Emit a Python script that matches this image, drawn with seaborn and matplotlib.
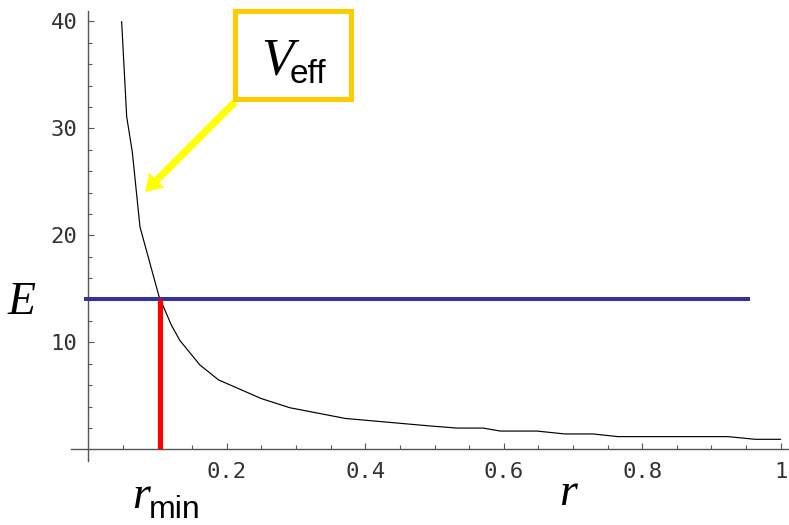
import matplotlib
matplotlib.use("Agg")
import matplotlib.pyplot as plt
import matplotlib.patches as mpatches
import seaborn as sns
import pandas as pd

# effective potential curve
r_vals = [0.048, 0.0553, 0.0634, 0.0745, 0.102, 0.120, 0.132, 0.161, 0.188,
          0.250, 0.291, 0.371, 0.493, 0.532, 0.570, 0.595, 0.648, 0.688,
          0.729, 0.765, 0.924, 0.963, 1.0]
veff_vals = [40.0, 31.1, 27.8, 20.8, 14.3, 11.6, 10.2, 7.9, 6.5,
             4.75, 3.9, 2.9, 2.2, 2.0, 2.0, 1.72, 1.72, 1.45,
             1.45, 1.2, 1.2, 0.95, 0.95]

energy = 14.1
energy_r = [-0.006, 0.955]
r_min = 0.103

x_ticks = [0.2, 0.4, 0.6, 0.8, 1.0]
x_tick_labels = ["0.2", "0.4", "0.6", "0.8", "1"]
y_ticks = [10, 20, 30, 40]
y_tick_labels = ["10", "20", "30", "40"]

W, H = 789, 525


def fx(px):
    return px / W


def fy(py):
    return 1 - py / H


sns.set_style("ticks")
plt.rcParams["font.family"] = ["DejaVu Sans"]
plt.rcParams["text.color"] = "black"

fig = plt.figure(figsize=(W / 100, H / 100), dpi=100)
ax = fig.add_axes([fx(71.1), fy(460.7), fx(789.7) - fx(71.1), fy(10.8) - fy(460.7)])

df = pd.DataFrame({"r": r_vals, "V": veff_vals})
sns.lineplot(data=df, x="r", y="V", sort=False, color="black", linewidth=0.85, ax=ax)

# energy level and turning point
ax.plot(energy_r, [energy, energy], color="#333399", linewidth=2.9, solid_capstyle="butt", zorder=3)
ax.plot([r_min, r_min], [0, energy], color="#ff0000", linewidth=3.7, solid_capstyle="butt", zorder=3)

ax.set_xlim(-0.025, 1.013)
ax.set_ylim(-1.05, 41.0)
ax.set_xlabel("")
ax.set_ylabel("")

for s in ["top", "right"]:
    ax.spines[s].set_visible(False)
ax.spines["left"].set_position(("data", 0))
ax.spines["bottom"].set_position(("data", 0))
for s in ["left", "bottom"]:
    ax.spines[s].set_color("#555555")
    ax.spines[s].set_linewidth(1.0)

ax.set_xticks(x_ticks)
ax.set_xticklabels(x_tick_labels)
ax.set_yticks(y_ticks)
ax.set_yticklabels(y_tick_labels)
ax.set_xticks([0.05, 0.1, 0.15, 0.25, 0.3, 0.35, 0.45, 0.5, 0.55, 0.65, 0.7,
               0.75, 0.85, 0.9, 0.95], minor=True)
ax.set_yticks([2, 4, 6, 8, 12, 14, 16, 18, 22, 24, 26, 28, 32, 34, 36, 38], minor=True)
ax.tick_params(which="major", direction="in", length=4.5, width=0.8, color="#555555",
               labelsize=16, labelcolor="#333333")
ax.tick_params(which="minor", direction="in", length=2.6, width=0.8, color="#555555")
ax.tick_params(axis="x", which="major", pad=9)
ax.tick_params(axis="y", which="major", pad=8)
for lab in ax.get_xticklabels() + ax.get_yticklabels():
    lab.set_family("DejaVu Sans Mono")

serif = "Liberation Serif"
sans = "Liberation Sans"

# axis labels
fig.text(fx(22), fy(314), "E", family=serif, style="italic", fontsize=33,
         ha="center", va="baseline", color="black")
fig.text(fx(568), fy(505), "r", family=serif, style="italic", fontsize=33,
         ha="center", va="baseline", color="black")
fig.text(fx(150), fy(508), "r", family=serif, style="italic", fontsize=33,
         ha="right", va="baseline", color="black")
fig.text(fx(149), fy(518), "min", family=sans, fontsize=23,
         ha="left", va="baseline", color="black")

# V_eff box and arrow
box = mpatches.Rectangle((fx(235), fy(99)), fx(351) - fx(235), fy(10.8) - fy(99),
                         transform=fig.transFigure, fill=True, facecolor="white",
                         edgecolor="#ffcc00", linewidth=3.6, zorder=5)
fig.patches.append(box)
fig.text(fx(277), fy(75), "V", family=serif, style="italic", fontsize=38,
         ha="center", va="baseline", zorder=6, color="black")
fig.text(fx(290), fy(83), "eff", family=sans, fontsize=24,
         ha="left", va="baseline", zorder=6, color="black")

ax.annotate("", xy=(fx(145), fy(192)), xycoords="figure fraction",
            xytext=(fx(235), fy(102)), textcoords="figure fraction",
            arrowprops=dict(arrowstyle="simple,head_length=0.6,head_width=0.75,tail_width=0.26",
                            mutation_scale=20, color="#ffff00", lw=0,
                            shrinkA=0, shrinkB=0))

fig.savefig("out.png", dpi=100)
